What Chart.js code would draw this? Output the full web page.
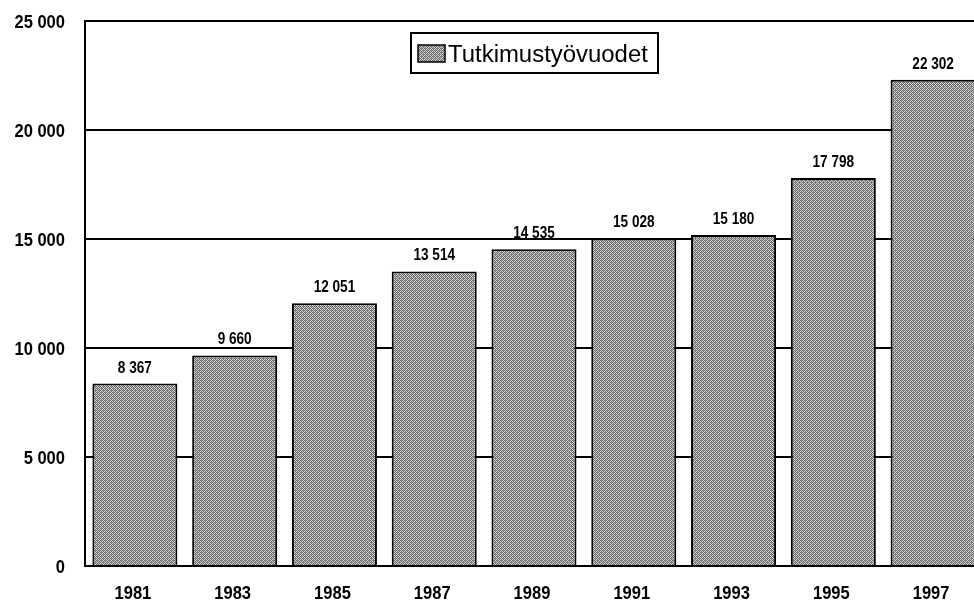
<!DOCTYPE html>
<html><head><meta charset="utf-8">
<style>html,body{margin:0;padding:0;background:#fff;overflow:hidden;width:974px;height:602px}
#wrap{width:990px;height:602px;position:relative}</style>
<script src="https://cdn.jsdelivr.net/npm/chart.js@4/dist/chart.umd.min.js"></script>
</head><body><div id="wrap"><canvas id="c" width="990" height="602"></canvas></div>
<script>
const years = ['1981','1983','1985','1987','1989','1991','1993','1995','1997'];
const values = [8367, 9660, 12051, 13514, 14535, 15028, 15180, 17798, 22302];
const seriesLabel = 'Tutkimustyövuodet';
const yTicks = [0, 5000, 10000, 15000, 20000, 25000];

const FAM = '"Liberation Sans", Arial, Helvetica, sans-serif';
function fmt(v){ return String(Math.round(v)).replace(/\B(?=(\d{3})+(?!\d))/g, ' '); }

// draw horizontally compressed (narrow) text
function narrowText(ctx, text, x, y, size, sx, align, baseline){
  ctx.save();
  ctx.font = 'bold ' + size + 'px ' + FAM;
  ctx.fillStyle = '#000';
  ctx.textAlign = align; ctx.textBaseline = baseline;
  ctx.translate(x, y); ctx.scale(sx, 1);
  ctx.fillText(text, 0, 0);
  ctx.restore();
}

function makePattern(){
  const p = document.createElement('canvas'); p.width = 4; p.height = 4;
  const g = p.getContext('2d');
  g.fillStyle = '#d8d8d8'; g.fillRect(0,0,4,4);
  g.fillStyle = '#6a6a6a';
  g.fillRect(0,0,1,1); g.fillRect(2,0,1,1); g.fillRect(1,1,1,1); g.fillRect(3,1,1,1);
  g.fillRect(0,2,1,1); g.fillRect(2,2,1,1); g.fillRect(1,3,1,1); g.fillRect(3,3,1,1);
  g.fillStyle = '#8a8a8a'; g.fillRect(1,0,1,1); g.fillRect(3,2,1,1);
  return document.getElementById('c').getContext('2d').createPattern(p, 'repeat');
}
const pat = makePattern();

const textPlugin = {
  id: 'texts',
  afterDatasetsDraw(chart){
    const ctx = chart.ctx;
    const meta = chart.getDatasetMeta(0);
    // value labels
    meta.data.forEach((bar, i) => {
      narrowText(ctx, fmt(values[i]), bar.x, bar.y - 11, 17, 0.8, 'center', 'alphabetic');
    });
  },
  afterDraw(chart){
    const ctx = chart.ctx;
    const xs = chart.scales.x, ys = chart.scales.y;
    // y tick labels
    yTicks.forEach(v => {
      narrowText(ctx, fmt(v), 65, ys.getPixelForValue(v) + 7, 19, 0.87, 'right', 'alphabetic');
    });
    // x tick labels
    years.forEach((yr, i) => {
      narrowText(ctx, yr, xs.getPixelForValue(i) - 2, 599, 19, 0.87, 'center', 'alphabetic');
    });
    // legend box
    const x = 411, y = 33, w = 247, h = 40;
    ctx.save();
    ctx.fillStyle = '#fff';
    ctx.fillRect(x, y, w, h);
    ctx.strokeStyle = '#000'; ctx.lineWidth = 2;
    ctx.strokeRect(x, y, w, h);
    ctx.fillStyle = pat;
    ctx.fillRect(418, 45, 27, 17);
    ctx.lineWidth = 1.5;
    ctx.strokeRect(418, 45, 27, 17);
    ctx.fillStyle = '#000';
    ctx.font = '23px ' + FAM;
    ctx.textAlign = 'left'; ctx.textBaseline = 'alphabetic';
    ctx.translate(448, 61.5); ctx.scale(1.04, 1);
    ctx.fillText(chart.data.datasets[0].label, 0, 0);
    ctx.restore();
  }
};

new Chart(document.getElementById('c'), {
  type: 'bar',
  data: {
    labels: years,
    datasets: [{
      label: seriesLabel,
      data: values,
      backgroundColor: pat,
      borderColor: '#000',
      borderWidth: 2,
      barPercentage: 0.852,
      categoryPercentage: 1.0
    }]
  },
  options: {
    responsive: false,
    animation: false,
    layout: { padding: { top: 21, right: 7, left: 0, bottom: 0 } },
    plugins: { legend: { display: false }, tooltip: { enabled: false } },
    scales: {
      x: {
        grid: { display: false, drawTicks: false },
        border: { display: true, color: '#000', width: 2 },
        ticks: { display: false },
        afterFit(s){ s.height = 36; }
      },
      y: {
        min: 0, max: 25000,
        afterBuildTicks(s){ s.ticks = yTicks.map(v => ({ value: v })); },
        grid: { color: '#000', lineWidth: 2, drawTicks: false },
        border: { display: true, color: '#000', width: 2 },
        ticks: { display: false },
        afterFit(s){ s.width = 85; }
      }
    }
  },
  plugins: [textPlugin]
});
</script></body></html>
